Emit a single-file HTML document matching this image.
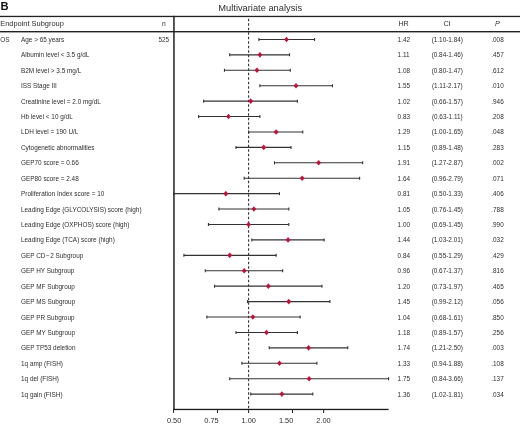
<!DOCTYPE html>
<html><head><meta charset="utf-8"><style>
html,body{margin:0;padding:0;background:#fff;width:520px;height:425px;overflow:hidden}
svg{display:block;filter:blur(0.3px)}
text{font-family:"Liberation Sans",sans-serif;fill:#2e2e2e}
</style></head><body>
<svg width="520" height="425" viewBox="0 0 520 425">

<text x="0" y="0" font-size="10" font-weight="bold" style="fill:#111" transform="translate(0.5,9.7) scale(1.12,1)">B</text>
<text x="260.2" y="11.4" font-size="9.3" text-anchor="middle">Multivariate analysis</text>
<rect x="0" y="15.8" width="520" height="1.3" fill="#222"/>
<rect x="0" y="31" width="520" height="1.4" fill="#222"/>
<rect x="173.2" y="15.8" width="1.5" height="394" fill="#222"/>
<rect x="173.2" y="408.8" width="215.4" height="1.3" fill="#1a1a1a"/>
<line x1="248.60" y1="17" x2="248.60" y2="409" stroke="#333" stroke-width="1.1" stroke-dasharray="2.5,2" stroke-dashoffset="2.75"/>
<line x1="173.60" y1="409" x2="173.60" y2="413" stroke="#222" stroke-width="1"/>
<text x="174.10" y="422.7" font-size="7.4" text-anchor="middle">0.50</text>
<line x1="217.47" y1="409" x2="217.47" y2="413" stroke="#222" stroke-width="1"/>
<text x="211.45" y="422.7" font-size="7.4" text-anchor="middle">0.75</text>
<line x1="248.60" y1="409" x2="248.60" y2="413" stroke="#222" stroke-width="1"/>
<text x="248.80" y="422.7" font-size="7.4" text-anchor="middle">1.00</text>
<line x1="292.47" y1="409" x2="292.47" y2="413" stroke="#222" stroke-width="1"/>
<text x="286.15" y="422.7" font-size="7.4" text-anchor="middle">1.50</text>
<line x1="323.60" y1="409" x2="323.60" y2="413" stroke="#222" stroke-width="1"/>
<text x="323.50" y="422.7" font-size="7.4" text-anchor="middle">2.00</text>
<text x="0.2" y="26" font-size="7.45">Endpoint Subgroup</text>
<text x="163.8" y="26.2" font-size="6.7" text-anchor="middle">n</text>
<text x="403.6" y="26.4" font-size="7.2" text-anchor="middle">HR</text>
<text x="447" y="26.4" font-size="7.2" text-anchor="middle">CI</text>
<text x="497.5" y="26.4" font-size="7.2" text-anchor="middle" font-style="italic">P</text>
<text x="0.3" y="41.95" font-size="6.40">OS</text>
<text x="163.8" y="41.95" font-size="6.40" text-anchor="middle">525</text>
<text x="21.0" y="41.95" font-size="6.40">Age &gt; 65 years</text>
<text x="397.6" y="41.95" font-size="6.40">1.42</text>
<text x="447.3" y="41.95" font-size="6.40" text-anchor="middle">(1.10-1.84)</text>
<text x="497.5" y="41.95" font-size="6.40" text-anchor="middle">.008</text>
<line x1="258.91" y1="39.45" x2="314.58" y2="39.45" stroke="#333" stroke-width="1.1"/>
<line x1="258.91" y1="37.95" x2="258.91" y2="40.95" stroke="#333" stroke-width="1.1"/>
<line x1="314.58" y1="37.95" x2="314.58" y2="40.95" stroke="#333" stroke-width="1.1"/>
<path d="M286.54 36.65L288.94 39.45L286.54 42.25L284.14 39.45Z" fill="#c41038"/>
<text x="21.0" y="57.37" font-size="6.40">Albumin level &lt; 3.5 g/dL</text>
<text x="397.6" y="57.37" font-size="6.40">1.11</text>
<text x="447.3" y="57.37" font-size="6.40" text-anchor="middle">(0.84-1.46)</text>
<text x="497.5" y="57.37" font-size="6.40" text-anchor="middle">.457</text>
<line x1="229.73" y1="54.87" x2="289.55" y2="54.87" stroke="#333" stroke-width="1.1"/>
<line x1="229.73" y1="53.37" x2="229.73" y2="56.37" stroke="#333" stroke-width="1.1"/>
<line x1="289.55" y1="53.37" x2="289.55" y2="56.37" stroke="#333" stroke-width="1.1"/>
<path d="M259.89 52.07L262.29 54.87L259.89 57.67L257.49 54.87Z" fill="#c41038"/>
<text x="21.0" y="72.79" font-size="6.40">B2M level &gt; 3.5 mg/L</text>
<text x="397.6" y="72.79" font-size="6.40">1.08</text>
<text x="447.3" y="72.79" font-size="6.40" text-anchor="middle">(0.80-1.47)</text>
<text x="497.5" y="72.79" font-size="6.40" text-anchor="middle">.612</text>
<line x1="224.46" y1="70.29" x2="290.29" y2="70.29" stroke="#333" stroke-width="1.1"/>
<line x1="224.46" y1="68.79" x2="224.46" y2="71.79" stroke="#333" stroke-width="1.1"/>
<line x1="290.29" y1="68.79" x2="290.29" y2="71.79" stroke="#333" stroke-width="1.1"/>
<path d="M256.93 67.49L259.33 70.29L256.93 73.09L254.53 70.29Z" fill="#c41038"/>
<text x="21.0" y="88.21" font-size="6.40">ISS Stage III</text>
<text x="397.6" y="88.21" font-size="6.40">1.55</text>
<text x="447.3" y="88.21" font-size="6.40" text-anchor="middle">(1.11-2.17)</text>
<text x="497.5" y="88.21" font-size="6.40" text-anchor="middle">.010</text>
<line x1="259.89" y1="85.71" x2="332.43" y2="85.71" stroke="#333" stroke-width="1.1"/>
<line x1="259.89" y1="84.21" x2="259.89" y2="87.21" stroke="#333" stroke-width="1.1"/>
<line x1="332.43" y1="84.21" x2="332.43" y2="87.21" stroke="#333" stroke-width="1.1"/>
<path d="M296.02 82.91L298.42 85.71L296.02 88.51L293.62 85.71Z" fill="#c41038"/>
<text x="21.0" y="103.63" font-size="6.40">Creatinine level = 2.0 mg/dL</text>
<text x="397.6" y="103.63" font-size="6.40">1.02</text>
<text x="447.3" y="103.63" font-size="6.40" text-anchor="middle">(0.66-1.57)</text>
<text x="497.5" y="103.63" font-size="6.40" text-anchor="middle">.946</text>
<line x1="203.64" y1="101.13" x2="297.41" y2="101.13" stroke="#333" stroke-width="1.1"/>
<line x1="203.64" y1="99.63" x2="203.64" y2="102.63" stroke="#333" stroke-width="1.1"/>
<line x1="297.41" y1="99.63" x2="297.41" y2="102.63" stroke="#333" stroke-width="1.1"/>
<path d="M250.74 98.33L253.14 101.13L250.74 103.93L248.34 101.13Z" fill="#c41038"/>
<text x="21.0" y="119.05" font-size="6.40">Hb level &lt; 10 g/dL</text>
<text x="397.6" y="119.05" font-size="6.40">0.83</text>
<text x="447.3" y="119.05" font-size="6.40" text-anchor="middle">(0.63-1.11)</text>
<text x="497.5" y="119.05" font-size="6.40" text-anchor="middle">.208</text>
<line x1="198.61" y1="116.55" x2="259.89" y2="116.55" stroke="#333" stroke-width="1.1"/>
<line x1="198.61" y1="115.05" x2="198.61" y2="118.05" stroke="#333" stroke-width="1.1"/>
<line x1="259.89" y1="115.05" x2="259.89" y2="118.05" stroke="#333" stroke-width="1.1"/>
<path d="M228.44 113.75L230.84 116.55L228.44 119.35L226.04 116.55Z" fill="#c41038"/>
<text x="21.0" y="134.47" font-size="6.40">LDH level = 190 U/L</text>
<text x="397.6" y="134.47" font-size="6.40">1.29</text>
<text x="447.3" y="134.47" font-size="6.40" text-anchor="middle">(1.00-1.65)</text>
<text x="497.5" y="134.47" font-size="6.40" text-anchor="middle">.048</text>
<line x1="248.60" y1="131.97" x2="302.78" y2="131.97" stroke="#333" stroke-width="1.1"/>
<line x1="248.60" y1="130.47" x2="248.60" y2="133.47" stroke="#333" stroke-width="1.1"/>
<line x1="302.78" y1="130.47" x2="302.78" y2="133.47" stroke="#333" stroke-width="1.1"/>
<path d="M276.15 129.17L278.55 131.97L276.15 134.77L273.75 131.97Z" fill="#c41038"/>
<text x="21.0" y="149.89" font-size="6.40">Cytogenetic abnormalities</text>
<text x="397.6" y="149.89" font-size="6.40">1.15</text>
<text x="447.3" y="149.89" font-size="6.40" text-anchor="middle">(0.89-1.48)</text>
<text x="497.5" y="149.89" font-size="6.40" text-anchor="middle">.283</text>
<line x1="235.99" y1="147.39" x2="291.02" y2="147.39" stroke="#333" stroke-width="1.1"/>
<line x1="235.99" y1="145.89" x2="235.99" y2="148.89" stroke="#333" stroke-width="1.1"/>
<line x1="291.02" y1="145.89" x2="291.02" y2="148.89" stroke="#333" stroke-width="1.1"/>
<path d="M263.72 144.59L266.12 147.39L263.72 150.19L261.32 147.39Z" fill="#c41038"/>
<text x="21.0" y="165.31" font-size="6.40">GEP70 score = 0.66</text>
<text x="397.6" y="165.31" font-size="6.40">1.91</text>
<text x="447.3" y="165.31" font-size="6.40" text-anchor="middle">(1.27-2.87)</text>
<text x="497.5" y="165.31" font-size="6.40" text-anchor="middle">.002</text>
<line x1="274.46" y1="162.81" x2="362.68" y2="162.81" stroke="#333" stroke-width="1.1"/>
<line x1="274.46" y1="161.31" x2="274.46" y2="164.31" stroke="#333" stroke-width="1.1"/>
<line x1="362.68" y1="161.31" x2="362.68" y2="164.31" stroke="#333" stroke-width="1.1"/>
<path d="M318.62 160.01L321.02 162.81L318.62 165.61L316.22 162.81Z" fill="#c41038"/>
<text x="21.0" y="180.73" font-size="6.40">GEP80 score = 2.48</text>
<text x="397.6" y="180.73" font-size="6.40">1.64</text>
<text x="447.3" y="180.73" font-size="6.40" text-anchor="middle">(0.96-2.79)</text>
<text x="497.5" y="180.73" font-size="6.40" text-anchor="middle">.071</text>
<line x1="244.18" y1="178.23" x2="359.62" y2="178.23" stroke="#333" stroke-width="1.1"/>
<line x1="244.18" y1="176.73" x2="244.18" y2="179.73" stroke="#333" stroke-width="1.1"/>
<line x1="359.62" y1="176.73" x2="359.62" y2="179.73" stroke="#333" stroke-width="1.1"/>
<path d="M302.13 175.43L304.53 178.23L302.13 181.03L299.73 178.23Z" fill="#c41038"/>
<text x="21.0" y="196.15" font-size="6.40">Proliferation Index score = 10</text>
<text x="397.6" y="196.15" font-size="6.40">0.81</text>
<text x="447.3" y="196.15" font-size="6.40" text-anchor="middle">(0.50-1.33)</text>
<text x="497.5" y="196.15" font-size="6.40" text-anchor="middle">.406</text>
<line x1="173.60" y1="193.65" x2="279.46" y2="193.65" stroke="#333" stroke-width="1.1"/>
<line x1="173.60" y1="192.15" x2="173.60" y2="195.15" stroke="#333" stroke-width="1.1"/>
<line x1="279.46" y1="192.15" x2="279.46" y2="195.15" stroke="#333" stroke-width="1.1"/>
<path d="M225.80 190.85L228.20 193.65L225.80 196.45L223.40 193.65Z" fill="#c41038"/>
<text x="21.0" y="211.57" font-size="6.40">Leading Edge (GLYCOLYSIS) score (high)</text>
<text x="397.6" y="211.57" font-size="6.40">1.05</text>
<text x="447.3" y="211.57" font-size="6.40" text-anchor="middle">(0.76-1.45)</text>
<text x="497.5" y="211.57" font-size="6.40" text-anchor="middle">.788</text>
<line x1="218.91" y1="209.07" x2="288.80" y2="209.07" stroke="#333" stroke-width="1.1"/>
<line x1="218.91" y1="207.57" x2="218.91" y2="210.57" stroke="#333" stroke-width="1.1"/>
<line x1="288.80" y1="207.57" x2="288.80" y2="210.57" stroke="#333" stroke-width="1.1"/>
<path d="M253.88 206.27L256.28 209.07L253.88 211.87L251.48 209.07Z" fill="#c41038"/>
<text x="21.0" y="226.99" font-size="6.40">Leading Edge (OXPHOS) score (high)</text>
<text x="397.6" y="226.99" font-size="6.40">1.00</text>
<text x="447.3" y="226.99" font-size="6.40" text-anchor="middle">(0.69-1.45)</text>
<text x="497.5" y="226.99" font-size="6.40" text-anchor="middle">.990</text>
<line x1="208.45" y1="224.49" x2="288.80" y2="224.49" stroke="#333" stroke-width="1.1"/>
<line x1="208.45" y1="222.99" x2="208.45" y2="225.99" stroke="#333" stroke-width="1.1"/>
<line x1="288.80" y1="222.99" x2="288.80" y2="225.99" stroke="#333" stroke-width="1.1"/>
<path d="M248.60 221.69L251.00 224.49L248.60 227.29L246.20 224.49Z" fill="#c41038"/>
<text x="21.0" y="242.41" font-size="6.40">Leading Edge (TCA) score (high)</text>
<text x="397.6" y="242.41" font-size="6.40">1.44</text>
<text x="447.3" y="242.41" font-size="6.40" text-anchor="middle">(1.03-2.01)</text>
<text x="497.5" y="242.41" font-size="6.40" text-anchor="middle">.032</text>
<line x1="251.80" y1="239.91" x2="324.14" y2="239.91" stroke="#333" stroke-width="1.1"/>
<line x1="251.80" y1="238.41" x2="251.80" y2="241.41" stroke="#333" stroke-width="1.1"/>
<line x1="324.14" y1="238.41" x2="324.14" y2="241.41" stroke="#333" stroke-width="1.1"/>
<path d="M288.06 237.11L290.46 239.91L288.06 242.71L285.66 239.91Z" fill="#c41038"/>
<text x="21.0" y="257.83" font-size="6.40">GEP CD<tspan dx="0.5">&#8722;</tspan><tspan dx="0.6">2</tspan> Subgroup</text>
<text x="397.6" y="257.83" font-size="6.40">0.84</text>
<text x="447.3" y="257.83" font-size="6.40" text-anchor="middle">(0.55-1.29)</text>
<text x="497.5" y="257.83" font-size="6.40" text-anchor="middle">.429</text>
<line x1="183.91" y1="255.33" x2="276.15" y2="255.33" stroke="#333" stroke-width="1.1"/>
<line x1="183.91" y1="253.83" x2="183.91" y2="256.83" stroke="#333" stroke-width="1.1"/>
<line x1="276.15" y1="253.83" x2="276.15" y2="256.83" stroke="#333" stroke-width="1.1"/>
<path d="M229.73 252.53L232.13 255.33L229.73 258.13L227.33 255.33Z" fill="#c41038"/>
<text x="21.0" y="273.25" font-size="6.40">GEP HY Subgroup</text>
<text x="397.6" y="273.25" font-size="6.40">0.96</text>
<text x="447.3" y="273.25" font-size="6.40" text-anchor="middle">(0.67-1.37)</text>
<text x="497.5" y="273.25" font-size="6.40" text-anchor="middle">.816</text>
<line x1="205.27" y1="270.75" x2="282.66" y2="270.75" stroke="#333" stroke-width="1.1"/>
<line x1="205.27" y1="269.25" x2="205.27" y2="272.25" stroke="#333" stroke-width="1.1"/>
<line x1="282.66" y1="269.25" x2="282.66" y2="272.25" stroke="#333" stroke-width="1.1"/>
<path d="M244.18 267.95L246.58 270.75L244.18 273.55L241.78 270.75Z" fill="#c41038"/>
<text x="21.0" y="288.67" font-size="6.40">GEP MF Subgroup</text>
<text x="397.6" y="288.67" font-size="6.40">1.20</text>
<text x="447.3" y="288.67" font-size="6.40" text-anchor="middle">(0.73-1.97)</text>
<text x="497.5" y="288.67" font-size="6.40" text-anchor="middle">.465</text>
<line x1="214.55" y1="286.17" x2="321.96" y2="286.17" stroke="#333" stroke-width="1.1"/>
<line x1="214.55" y1="284.67" x2="214.55" y2="287.67" stroke="#333" stroke-width="1.1"/>
<line x1="321.96" y1="284.67" x2="321.96" y2="287.67" stroke="#333" stroke-width="1.1"/>
<path d="M268.33 283.37L270.73 286.17L268.33 288.97L265.93 286.17Z" fill="#c41038"/>
<text x="21.0" y="304.09" font-size="6.40">GEP MS Subgroup</text>
<text x="397.6" y="304.09" font-size="6.40">1.45</text>
<text x="447.3" y="304.09" font-size="6.40" text-anchor="middle">(0.99-2.12)</text>
<text x="497.5" y="304.09" font-size="6.40" text-anchor="middle">.056</text>
<line x1="247.51" y1="301.59" x2="329.90" y2="301.59" stroke="#333" stroke-width="1.1"/>
<line x1="247.51" y1="300.09" x2="247.51" y2="303.09" stroke="#333" stroke-width="1.1"/>
<line x1="329.90" y1="300.09" x2="329.90" y2="303.09" stroke="#333" stroke-width="1.1"/>
<path d="M288.80 298.79L291.20 301.59L288.80 304.39L286.40 301.59Z" fill="#c41038"/>
<text x="21.0" y="319.51" font-size="6.40">GEP PR Subgroup</text>
<text x="397.6" y="319.51" font-size="6.40">1.04</text>
<text x="447.3" y="319.51" font-size="6.40" text-anchor="middle">(0.68-1.61)</text>
<text x="497.5" y="319.51" font-size="6.40" text-anchor="middle">.850</text>
<line x1="206.87" y1="317.01" x2="300.13" y2="317.01" stroke="#333" stroke-width="1.1"/>
<line x1="206.87" y1="315.51" x2="206.87" y2="318.51" stroke="#333" stroke-width="1.1"/>
<line x1="300.13" y1="315.51" x2="300.13" y2="318.51" stroke="#333" stroke-width="1.1"/>
<path d="M252.84 314.21L255.24 317.01L252.84 319.81L250.44 317.01Z" fill="#c41038"/>
<text x="21.0" y="334.93" font-size="6.40">GEP MY Subgroup</text>
<text x="397.6" y="334.93" font-size="6.40">1.18</text>
<text x="447.3" y="334.93" font-size="6.40" text-anchor="middle">(0.89-1.57)</text>
<text x="497.5" y="334.93" font-size="6.40" text-anchor="middle">.256</text>
<line x1="235.99" y1="332.43" x2="297.41" y2="332.43" stroke="#333" stroke-width="1.1"/>
<line x1="235.99" y1="330.93" x2="235.99" y2="333.93" stroke="#333" stroke-width="1.1"/>
<line x1="297.41" y1="330.93" x2="297.41" y2="333.93" stroke="#333" stroke-width="1.1"/>
<path d="M266.51 329.63L268.91 332.43L266.51 335.23L264.11 332.43Z" fill="#c41038"/>
<text x="21.0" y="350.35" font-size="6.40">GEP TP53 deletion</text>
<text x="397.6" y="350.35" font-size="6.40">1.74</text>
<text x="447.3" y="350.35" font-size="6.40" text-anchor="middle">(1.21-2.50)</text>
<text x="497.5" y="350.35" font-size="6.40" text-anchor="middle">.003</text>
<line x1="269.23" y1="347.85" x2="347.74" y2="347.85" stroke="#333" stroke-width="1.1"/>
<line x1="269.23" y1="346.35" x2="269.23" y2="349.35" stroke="#333" stroke-width="1.1"/>
<line x1="347.74" y1="346.35" x2="347.74" y2="349.35" stroke="#333" stroke-width="1.1"/>
<path d="M308.53 345.05L310.93 347.85L308.53 350.65L306.13 347.85Z" fill="#c41038"/>
<text x="21.0" y="365.77" font-size="6.40">1q amp (FISH)</text>
<text x="397.6" y="365.77" font-size="6.40">1.33</text>
<text x="447.3" y="365.77" font-size="6.40" text-anchor="middle">(0.94-1.88)</text>
<text x="497.5" y="365.77" font-size="6.40" text-anchor="middle">.108</text>
<line x1="241.90" y1="363.27" x2="316.90" y2="363.27" stroke="#333" stroke-width="1.1"/>
<line x1="241.90" y1="361.77" x2="241.90" y2="364.77" stroke="#333" stroke-width="1.1"/>
<line x1="316.90" y1="361.77" x2="316.90" y2="364.77" stroke="#333" stroke-width="1.1"/>
<path d="M279.46 360.47L281.86 363.27L279.46 366.07L277.06 363.27Z" fill="#c41038"/>
<text x="21.0" y="381.19" font-size="6.40">1q del (FISH)</text>
<text x="397.6" y="381.19" font-size="6.40">1.75</text>
<text x="447.3" y="381.19" font-size="6.40" text-anchor="middle">(0.84-3.66)</text>
<text x="497.5" y="381.19" font-size="6.40" text-anchor="middle">.137</text>
<line x1="229.73" y1="378.69" x2="388.60" y2="378.69" stroke="#333" stroke-width="1.1"/>
<line x1="229.73" y1="377.19" x2="229.73" y2="380.19" stroke="#333" stroke-width="1.1"/>
<line x1="388.60" y1="377.19" x2="388.60" y2="380.19" stroke="#333" stroke-width="1.1"/>
<path d="M309.15 375.89L311.55 378.69L309.15 381.49L306.75 378.69Z" fill="#c41038"/>
<text x="21.0" y="396.61" font-size="6.40">1q gain (FISH)</text>
<text x="397.6" y="396.61" font-size="6.40">1.36</text>
<text x="447.3" y="396.61" font-size="6.40" text-anchor="middle">(1.02-1.81)</text>
<text x="497.5" y="396.61" font-size="6.40" text-anchor="middle">.034</text>
<line x1="250.74" y1="394.11" x2="312.80" y2="394.11" stroke="#333" stroke-width="1.1"/>
<line x1="250.74" y1="392.61" x2="250.74" y2="395.61" stroke="#333" stroke-width="1.1"/>
<line x1="312.80" y1="392.61" x2="312.80" y2="395.61" stroke="#333" stroke-width="1.1"/>
<path d="M281.87 391.31L284.27 394.11L281.87 396.91L279.47 394.11Z" fill="#c41038"/>
</svg></body></html>
